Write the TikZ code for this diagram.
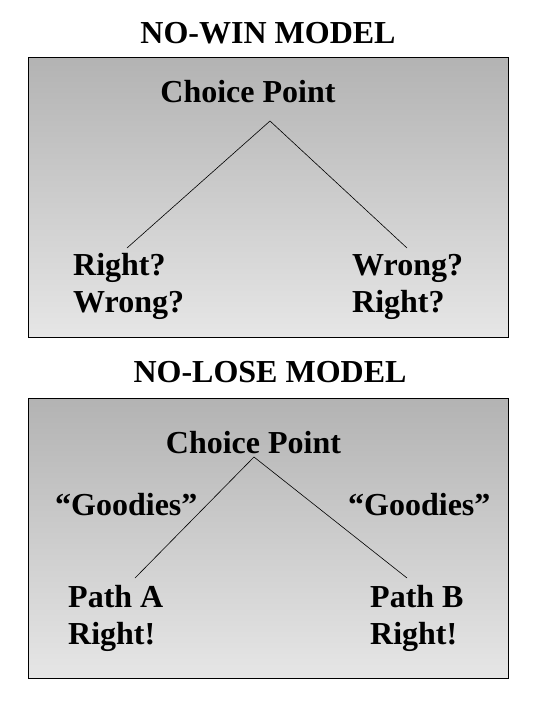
\documentclass[tikz,border=0pt]{standalone}
\usepackage{fontspec}
\setmainfont{Liberation Serif}
\begin{document}
\begin{tikzpicture}[x=1pt,y=-1pt,
  panel/.style={draw=black,line width=0.8pt,top color=boxtop,bottom color=boxbot},
  lbl/.style={font=\fontsize{32}{36}\selectfont\bfseries,inner sep=0pt,text=black},
  conn/.style={draw=black,line width=0.6pt}]
\definecolor{boxtop}{HTML}{B3B3B3}
\definecolor{boxbot}{HTML}{E6E6E6}
\useasboundingbox[fill=white] (0,0) rectangle (539,720);
% panels
\path[panel] (28,57) rectangle (508,337);
\path[panel] (28,398) rectangle (508,678);
% titles
\node[lbl,anchor=base] (t1) at (268,43) {NO-WIN MODEL};
\node[lbl,anchor=base] (t2) at (270,382) {NO-LOSE MODEL};
% top panel
\node[lbl,anchor=base] (cp1) at (248,102) {Choice Point};
\node[lbl,anchor=base west] (l1a) at (73,275) {Right?};
\node[lbl,anchor=base west] (l1b) at (73,312) {Wrong?};
\node[lbl,anchor=base west] (r1a) at (352,275) {Wrong?};
\node[lbl,anchor=base west] (r1b) at (352,312) {Right?};
\coordinate (a1) at (270,121);
\coordinate (e1l) at (127,248);
\coordinate (e1r) at (407,248);
\draw[conn] (e1l) -- (a1) -- (e1r);
% bottom panel
\node[lbl,anchor=base] (cp2) at (253.5,453) {Choice Point};
\node[lbl,anchor=base west] (g1) at (55,515) {“Goodies”};
\node[lbl,anchor=base west] (g2) at (348,515) {“Goodies”};
\node[lbl,anchor=base west] (l2a) at (68,607) {Path A};
\node[lbl,anchor=base west] (l2b) at (68,644) {Right!};
\node[lbl,anchor=base west] (r2a) at (370,607) {Path B};
\node[lbl,anchor=base west] (r2b) at (370,644) {Right!};
\coordinate (a2) at (254,457);
\coordinate (e2l) at (135,578);
\coordinate (e2r) at (407,578);
\draw[conn] (e2l) -- (a2) -- (e2r);
\end{tikzpicture}
\end{document}
